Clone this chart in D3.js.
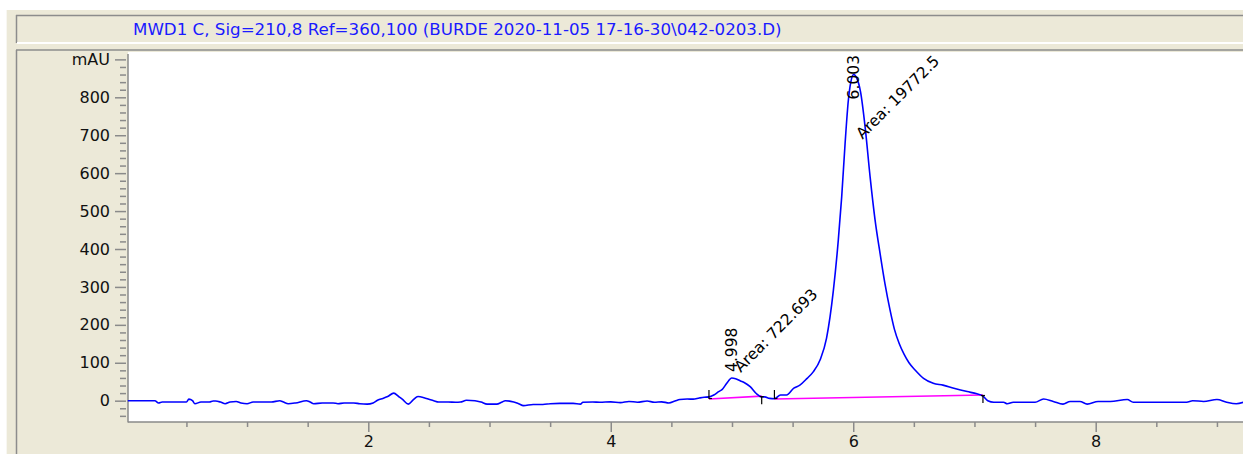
<!DOCTYPE html>
<html>
<head>
<meta charset="utf-8">
<script src="https://cdn.jsdelivr.net/npm/d3@7"></script>
<style>
  body { margin: 0; background: #fff; }
  svg { display: block; }
  text { font-family: "DejaVu Sans", sans-serif; }
</style>
</head>
<body>
<svg id="chart" width="1243" height="454"></svg>
<script>
// Signal header
const signalTitle = "MWD1 C, Sig=210,8 Ref=360,100 (BURDE 2020-11-05 17-16-30\\042-0203.D)";

// Chromatogram trace: retention time (min) and absorbance (mAU)
const retentionTime = [
  0.016, 0.10, 0.24, 0.27, 0.30, 0.50, 0.52, 0.55, 0.57, 0.62, 0.69, 0.72, 0.74, 0.78, 0.82, 0.86,
  0.91, 0.95, 1.00, 1.05, 1.11, 1.20, 1.27, 1.30, 1.34, 1.40, 1.49, 1.52, 1.55, 1.62, 1.71, 1.75,
  1.80, 1.88, 1.93, 1.99, 2.04, 2.08, 2.12, 2.16, 2.21, 2.25, 2.28, 2.33, 2.37, 2.41, 2.46, 2.50,
  2.54, 2.58, 2.66, 2.72, 2.76, 2.81, 2.88, 2.93, 2.98, 3.06, 3.10, 3.13, 3.20, 3.24, 3.28, 3.36,
  3.44, 3.50, 3.58, 3.69, 3.75, 3.77, 3.85, 3.91, 4.00, 4.08, 4.15, 4.22, 4.30, 4.36, 4.42, 4.48,
  4.53, 4.57, 4.63, 4.68, 4.73, 4.77, 4.81, 4.85, 4.89, 4.92, 4.957, 4.998, 5.03, 5.07, 5.10, 5.15,
  5.20, 5.245, 5.27, 5.31, 5.35, 5.40, 5.45, 5.51, 5.56, 5.62, 5.67, 5.73, 5.78, 5.836, 5.877, 5.905,
  5.933, 5.96, 5.98, 6.003, 6.03, 6.06, 6.098, 6.139, 6.18, 6.221, 6.262, 6.303, 6.34, 6.38, 6.42, 6.46,
  6.51, 6.58, 6.66, 6.74, 6.83, 6.94, 7.02, 7.07, 7.11, 7.16, 7.24, 7.27, 7.32, 7.38, 7.50, 7.57,
  7.65, 7.73, 7.79, 7.87, 7.93, 8.02, 8.12, 8.26, 8.31, 8.75, 8.80, 8.89, 9.00, 9.08, 9.16, 9.22
];
const absorbance = [
  0, 0, 0, -6, -3.5, -3.5, 4, 0, -8, -3.5, -3.5, -1, -1, -3.5, -8, -3.5,
  -2, -6, -8, -3.5, -3.5, -3.5, 0, -3.5, -8, -6, 0, -3.5, -8, -6, -6, -8,
  -6, -6, -8, -9, -6, 2, 6, 11, 20, 11, 4, -9, 2, 11, 8, 4,
  0, -3.5, -3.5, -4, -3.5, 1, 0, -3.5, -9, -9, -4, 0, -3.5, -8, -13, -10,
  -10, -8, -7, -7, -9, -4, -3.5, -4, -3, -5, -2, -4, -1, -4, -3, -6,
  -1, 3, 4.5, 4, 7, 9, 10, 15, 24, 30, 46, 60, 58, 52, 48, 37,
  19, 10, 10, 6, 5, 15, 15, 33, 41, 59, 76, 110, 165, 290, 424, 538,
  679, 793, 840, 860, 850, 815, 722, 591, 477, 389, 308, 240, 188, 150, 122, 100,
  81, 59, 46, 41, 33, 24, 18, 12, 0, -4, -4, -8, -4, -4, -4, 4.5,
  -2, -9, -2, -2, -9, -2, -2, 3, -4, -4, 0, -2, 3, -4, -8, -4
];

// Integrated peaks
const peakRT = [4.998, 6.003];
const peakArea = ["722.693", "19772.5"];
const peakStart = [4.81, 5.35];
const peakEnd = [5.245, 7.07];
const baseAtStart = [4.5, 4.5];
const baseAtEnd = [12, 15];

// Axis ticks
const yMajorTicks = [0, 100, 200, 300, 400, 500, 600, 700, 800, 900];
const yUnitLabel = "mAU";
const xMajorTicks = [2, 4, 6, 8];

const svg = d3.select("#chart");
const W = 1243, H = 454;
const plotLeft = 128, plotRight = 1243, plotTop = 54, plotBottom = 422;

const x = d3.scaleLinear().domain([0.018, 9.215]).range([plotLeft, plotRight]);
const y = d3.scaleLinear().domain([-56.2, 914.2]).range([plotBottom, plotTop]);

// Window frame
svg.append("rect").attr("x", 0).attr("y", 0).attr("width", W).attr("height", H).attr("fill", "#ffffff");
svg.append("rect").attr("x", 6).attr("y", 10).attr("width", W - 6).attr("height", H - 10).attr("fill", "#ECE9D8");
svg.append("line").attr("x1", 6.5).attr("x2", 6.5).attr("y1", 10).attr("y2", H).attr("stroke", "#f8f7f2");

// Title box (sunken)
svg.append("rect").attr("x", 17).attr("y", 16).attr("width", W - 17).attr("height", 26).attr("fill", "#ECE9D8");
svg.append("line").attr("x1", 16).attr("x2", W).attr("y1", 15.5).attr("y2", 15.5).attr("stroke", "#8c8c8c").attr("stroke-width", 1.5);
svg.append("line").attr("x1", 16.5).attr("x2", 16.5).attr("y1", 15).attr("y2", 43).attr("stroke", "#8c8c8c").attr("stroke-width", 1.5);
svg.append("line").attr("x1", 17).attr("x2", W).attr("y1", 43).attr("y2", 43).attr("stroke", "#ffffff").attr("stroke-width", 2);

const titleText = svg.append("text")
  .attr("x", 133).attr("y", 34.5)
  .attr("fill", "#1a1aff")
  .style("font-size", "15px")
  .text(signalTitle);
const natural = titleText.node().getComputedTextLength();
titleText.style("font-size", (15 * 649 / natural).toFixed(2) + "px");

// Plot panel frame
svg.append("line").attr("x1", 16).attr("x2", W).attr("y1", 50).attr("y2", 50).attr("stroke", "#8c8c8c").attr("stroke-width", 1.5);
svg.append("line").attr("x1", 16.5).attr("x2", 16.5).attr("y1", 50).attr("y2", H).attr("stroke", "#8c8c8c").attr("stroke-width", 1.5);

// Plot area
svg.append("rect").attr("x", plotLeft).attr("y", 52)
  .attr("width", plotRight - plotLeft).attr("height", plotBottom - 52).attr("fill", "#ffffff");

// Y axis
const yMinor = d3.range(-40, 901, 20).filter(v => v % 100 !== 0);
const yAxisG = svg.append("g").attr("transform", `translate(${plotLeft - 2},0)`);
yAxisG.call(d3.axisLeft(y).tickValues(yMinor).tickSize(6).tickFormat(""));
yAxisG.call(g => g.select(".domain").remove());
const yMajorG = svg.append("g").attr("transform", `translate(${plotLeft - 2},0)`);
yMajorG.call(d3.axisLeft(y).tickValues(yMajorTicks).tickSize(11).tickPadding(5)
  .tickFormat(d => d === 900 ? yUnitLabel : d));
yMajorG.call(g => g.select(".domain").remove());

// X axis
const xMinor = d3.range(0.5, 9.01, 0.5).filter(v => v % 2 !== 0);
const xAxisG = svg.append("g").attr("transform", `translate(0,${plotBottom})`);
xAxisG.call(d3.axisBottom(x).tickValues(xMinor).tickSize(5).tickFormat(""));
xAxisG.call(g => g.select(".domain").remove());
const xMajorG = svg.append("g").attr("transform", `translate(0,${plotBottom})`);
xMajorG.call(d3.axisBottom(x).tickValues(xMajorTicks).tickSize(10).tickPadding(4));
xMajorG.call(g => g.select(".domain").remove());

svg.selectAll(".tick line").attr("stroke", "#8a8a8a").attr("stroke-width", 1.5);
svg.selectAll(".tick text").attr("fill", "#111").style("font-size", "16px").style("font-family", "'DejaVu Sans', sans-serif");

// Axis lines
svg.append("line").attr("x1", plotLeft).attr("x2", plotLeft).attr("y1", plotTop).attr("y2", plotBottom + 0.5)
  .attr("stroke", "#8a8a8a").attr("stroke-width", 1.5);
svg.append("line").attr("x1", plotLeft).attr("x2", plotRight).attr("y1", plotBottom).attr("y2", plotBottom)
  .attr("stroke", "#8a8a8a").attr("stroke-width", 1.5);

// Integration baselines
const baseG = svg.append("g");
peakRT.forEach((rt, i) => {
  baseG.append("line")
    .attr("x1", x(peakStart[i])).attr("y1", y(baseAtStart[i]))
    .attr("x2", x(peakEnd[i])).attr("y2", y(baseAtEnd[i]))
    .attr("stroke", "#ff00ff").attr("stroke-width", 1.6);
});

// Trace
const trace = d3.zip(retentionTime, absorbance);
svg.append("path")
  .datum(trace)
  .attr("fill", "none")
  .attr("stroke", "#0000ff")
  .attr("stroke-width", 1.6)
  .attr("stroke-linejoin", "round")
  .attr("d", d3.line().curve(d3.curveMonotoneX).x(d => x(d[0])).y(d => y(d[1])));

// Peak start / end markers
const markG = svg.append("g").attr("stroke", "#000").attr("stroke-width", 1.2);
peakRT.forEach((rt, i) => {
  const xs = x(peakStart[i]), ys = y(baseAtStart[i]);
  markG.append("line").attr("x1", xs).attr("x2", xs).attr("y1", ys).attr("y2", ys - 9);
  markG.append("line").attr("x1", xs).attr("x2", xs + 3).attr("y1", ys - 0.5).attr("y2", ys - 0.5);
  const xe = x(peakEnd[i]), ye = y(baseAtEnd[i]);
  markG.append("line").attr("x1", xe).attr("x2", xe).attr("y1", ye).attr("y2", ye + 8);
  markG.append("line").attr("x1", xe - 2).attr("x2", xe + 2).attr("y1", ye + 0.5).attr("y2", ye + 0.5);
});

// Peak annotations: retention time (vertical) and area (diagonal), kept inside the plot
const labelG = svg.append("g").attr("fill", "#000").style("font-size", "15.5px");
peakRT.forEach((rt, i) => {
  const idx = d3.minIndex(retentionTime, t => Math.abs(t - rt));
  const apexY = y(absorbance[idx]);
  const ax = x(rt);

  const rtText = labelG.append("text").attr("dy", "0.36em").text(rt.toFixed(3));
  const rtLen = rtText.node().getComputedTextLength();
  const rtY = Math.max(apexY - 6, plotTop + rtLen + 1);
  rtText.attr("transform", `translate(${ax},${rtY}) rotate(-90)`);

  const areaText = labelG.append("text").text("Area: " + peakArea[i]);
  const aLen = areaText.node().getComputedTextLength();
  const aY = Math.max(apexY - 5, plotTop + aLen * Math.SQRT1_2 + 8);
  areaText.attr("transform", `translate(${ax + 9},${aY}) rotate(-45)`);
});
</script>
</body>
</html>
